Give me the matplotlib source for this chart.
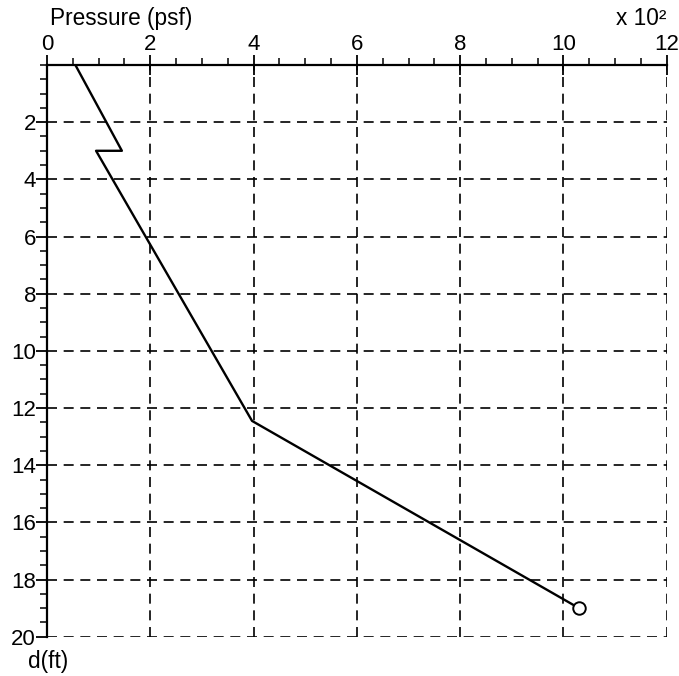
import matplotlib
matplotlib.use("Agg")
import matplotlib.pyplot as plt
from matplotlib.ticker import MultipleLocator

plt.rcParams['font.family'] = ['Liberation Sans', 'DejaVu Sans']

pressure = [0.55, 1.45, 0.95, 3.97, 10.3]   # x 10^2 psf
depth = [0.0, 3.0, 3.0, 12.45, 19.0]        # ft

x_ticks = [0, 2, 4, 6, 8, 10, 12]
y_ticks = [2, 4, 6, 8, 10, 12, 14, 16, 18, 20]

fig = plt.figure(figsize=(6.79, 6.76), dpi=100)
ax = fig.add_axes([0.0692, 0.0581, 0.9128, 0.8457])

ax.plot(pressure, depth, color='black', lw=1.7, zorder=3)
ax.plot(pressure[-1], depth[-1], marker='o', mfc='white', mec='black',
        ms=9, mew=1.4, zorder=4, ls='none')

ax.set_xlim(0, 12)
ax.set_ylim(20, 0)
ax.xaxis.tick_top()
ax.set_xticks(x_ticks)
ax.set_yticks(y_ticks)
ax.xaxis.set_minor_locator(MultipleLocator(0.5))
ax.yaxis.set_minor_locator(MultipleLocator(0.5))
ax.tick_params(axis='x', which='major', direction='inout', length=14, width=1.3,
               labelsize=16, pad=0, colors='black')
ax.tick_params(axis='y', which='major', direction='out', length=8, width=1.3,
               labelsize=16, pad=0, colors='black')
ax.tick_params(axis='both', which='minor', direction='out', length=5, width=1.1)

for v in x_ticks[1:]:
    ax.axvline(v, color='black', lw=1.2, ls=(0, (6, 4)), zorder=1)
for v in y_ticks:
    ax.axhline(v, color='black', lw=1.2, ls=(0, (6, 4)), zorder=1)

ax.spines['right'].set_visible(False)
ax.spines['bottom'].set_visible(False)
ax.spines['top'].set_linewidth(1.6)
ax.spines['left'].set_linewidth(1.6)

fig.text(50/679, 1-25/676, 'Pressure (psf)', fontsize=16.3, ha='left', va='baseline')
fig.text(666/679, 1-25/676, 'x 10²', fontsize=16.3, ha='right', va='baseline')
fig.text(28/679, 1-668/676, 'd(ft)', fontsize=16.3, ha='left', va='baseline')

fig.savefig('out.png', dpi=100)
